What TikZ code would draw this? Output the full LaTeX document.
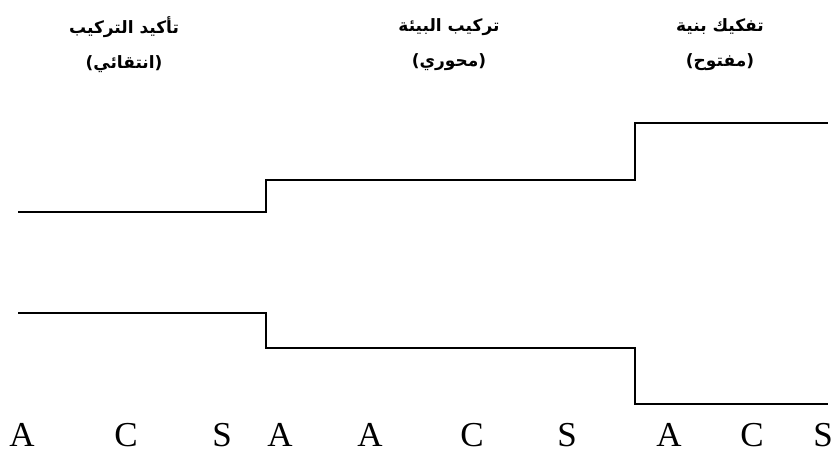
\documentclass[tikz,border=0pt]{standalone}
\usepackage{fontspec}
\setmainfont{Liberation Serif}
\newfontfamily\arabicfont[Script=Arabic]{DejaVu Sans}
\TeXXeTstate=1
\usetikzlibrary{positioning}
\tikzset{
  phase/.style = {align=center, inner sep=0pt, font=\arabicfont\bfseries\fontsize{17}{35}\selectfont},
  letter/.style = {anchor=base, inner sep=0pt, font=\fontsize{35}{40}\selectfont},
  level/.style = {line width=2pt, line join=miter},
}
\begin{document}
\begin{tikzpicture}[x=1pt,y=-1pt]
\useasboundingbox (0,0) rectangle (833,452);
% titres des trois phases
\node [phase] (p1) at (124,45) {\beginR تأكيد التركيب\endR\\ \beginR(انتقائي)\endR};
\node [phase] (p2) at (449,45) {\beginR تركيب البيئة\endR\\ \beginR(محوري)\endR};
\node [phase] (p3) at (720,45) {\beginR تفكيك بنية\endR\\ \beginR(مفتوح)\endR};
% courbe du haut
\coordinate (u0) at (18,212);
\coordinate (u1) at (266,212);
\coordinate (u2) at (266,180);
\coordinate (u3) at (635,180);
\coordinate (u4) at (635,123);
\coordinate (u5) at (828,123);
\draw [level] (u0) -- (u1) -- (u2) -- (u3) -- (u4) -- (u5);
% courbe du bas
\coordinate (d0) at (18,313);
\coordinate (d1) at (266,313);
\coordinate (d2) at (266,348);
\coordinate (d3) at (635,348);
\coordinate (d4) at (635,404);
\coordinate (d5) at (828,404);
\draw [level] (d0) -- (d1) -- (d2) -- (d3) -- (d4) -- (d5);
% lettres
\foreach \x/\l [count=\i] in {22/A,126/C,222/S,280/A,370/A,472/C,567/S,669/A,752/C,823/S}
  \node [letter] (l\i) at (\x,446) {\l};
\end{tikzpicture}
\end{document}
